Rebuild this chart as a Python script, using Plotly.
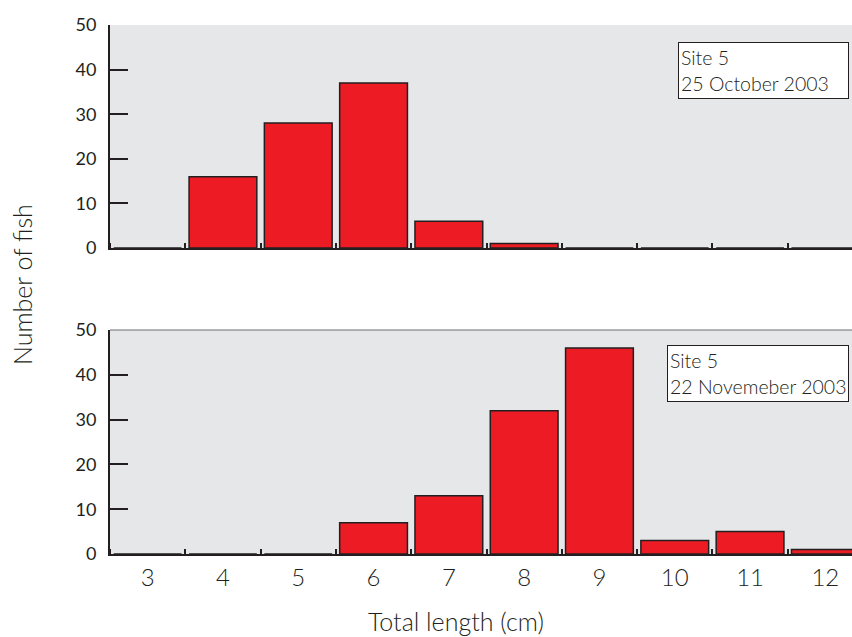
import plotly.graph_objects as go

# Length classes (cm) and fish counts for the two sampling dates
lengths = [3, 4, 5, 6, 7, 8, 9, 10, 11, 12]
counts_oct = [0, 16, 28, 37, 6, 1, 0, 0, 0, 0]
counts_nov = [0, 0, 0, 7, 13, 32, 46, 3, 5, 1]
y_ticks = [0, 10, 20, 30, 40, 50]
label_oct = "Site 5<br>25 October 2003"
label_nov = "Site 5<br>22 Novemeber 2003"

W, H = 852, 637
INK = "#231F20"
RED = "#ED1C24"
PANEL = "#E6E7E8"
FONT = "Lato"

fig = go.Figure()
bar_style = dict(marker=dict(color=RED, line=dict(color=INK, width=1.5)),
                 width=0.9, showlegend=False, hoverinfo="skip")
fig.add_trace(go.Bar(x=lengths, y=counts_oct, xaxis="x", yaxis="y", **bar_style))
fig.add_trace(go.Bar(x=lengths, y=counts_nov, xaxis="x2", yaxis="y2", **bar_style))

# pixel geometry of the two panels
left = 110
top1, bot1 = 25, 248
top2, bot2 = 330, 554
span = (W - left) / 75.3  # category units visible across the panel
xr = [2.5, 2.5 + span]
bounds = [v + 0.5 for v in range(2, 13)]

def xaxis(show_labels, anchor):
    return dict(
        domain=[0, 1], range=xr, anchor=anchor, automargin=False,
        showgrid=False, zeroline=False,
        showline=True, linecolor=INK, linewidth=2,
        tickmode="array", tickvals=lengths,
        ticktext=[str(v) for v in lengths] if show_labels else [""] * len(lengths),
        ticks="", showticklabels=show_labels, ticklabelstandoff=1,
        tickfont=dict(family=FONT, size=24, color=INK, weight=300),
        minor=dict(tickmode="array", tickvals=bounds, ticks="inside",
                   ticklen=5, tickwidth=1.5, tickcolor=INK, showgrid=False),
    )

def yaxis(t, b, anchor):
    return dict(
        domain=[1 - b / H, 1 - t / H], range=[0, 50], anchor=anchor,
        automargin=False,
        showgrid=False, zeroline=False,
        showline=True, linecolor=INK, linewidth=2,
        tickmode="array", tickvals=y_ticks,
        ticks="inside", ticklen=18, tickwidth=2, tickcolor=INK,
        ticklabelstandoff=8,
        tickfont=dict(family=FONT, size=18, color=INK),
    )

fig.update_layout(
    width=W, height=H,
    margin=dict(l=left, r=0, t=0, b=0, autoexpand=False),
    paper_bgcolor="white",
    plot_bgcolor=PANEL,
    bargap=0.1,
    xaxis=xaxis(False, "y"),
    yaxis=yaxis(top1, bot1, "x"),
    xaxis2=xaxis(True, "y2"),
    yaxis2=yaxis(top2, bot2, "x2"),
)

# grey top edge on the lower panel
fig.add_shape(type="line", xref="x2 domain", yref="y2 domain",
              x0=0, x1=1, y0=1, y1=1, line=dict(color="#6D6E71", width=1))

box = dict(align="left", valign="middle", showarrow=False, bgcolor="white",
           bordercolor=INK, borderwidth=1, borderpad=2, height=51,
           font=dict(family=FONT, size=19.5, color=INK, weight=300),
           xanchor="right", yanchor="top")
fig.add_annotation(text=label_oct, xref="x domain", yref="y domain", width=165,
                   x=(849 - left) / (W - left), y=(bot1 - 42) / (bot1 - top1), **box)
fig.add_annotation(text=label_nov, xref="x2 domain", yref="y2 domain", width=176,
                   x=(849 - left) / (W - left), y=(bot2 - 345) / (bot2 - top2), **box)

# axis titles
fig.add_annotation(text="Number of fish", xref="paper", yref="paper",
                   x=(22 - left) / (W - left), y=1 - 285 / H, textangle=-90,
                   showarrow=False, xanchor="center", yanchor="middle",
                   font=dict(family=FONT, size=25, color=INK, weight=300))
fig.add_annotation(text="Total length (cm)", xref="paper", yref="paper",
                   x=(456 - left) / (W - left), y=1 - 621 / H,
                   showarrow=False, xanchor="center", yanchor="middle",
                   font=dict(family=FONT, size=25, color=INK, weight=300))

fig.write_html("out.html")
